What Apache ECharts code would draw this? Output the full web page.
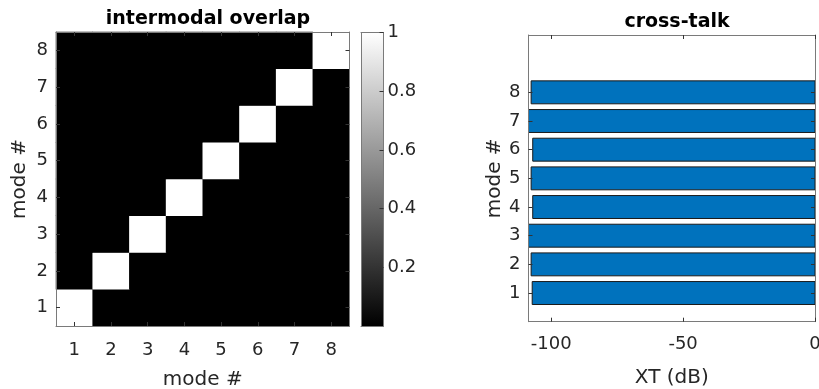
<!DOCTYPE html>
<html><head><meta charset="utf-8">
<script src="https://cdn.jsdelivr.net/npm/echarts@6/dist/echarts.min.js"></script>
<style>html,body{margin:0;padding:0;background:#fff}#c{width:819px;height:389px}</style>
</head><body><div id="c"></div>
<script>
// ---- data ----
const modes = ['1','2','3','4','5','6','7','8'];
// intermodal overlap matrix, rows = mode (y) 1..8, cols = mode (x) 1..8
const overlapRow1 = [1,0,0,0,0,0,0,0];
const overlapRow2 = [0,1,0,0,0,0,0,0];
const overlapRow3 = [0,0,1,0,0,0,0,0];
const overlapRow4 = [0,0,0,1,0,0,0,0];
const overlapRow5 = [0,0,0,0,1,0,0,0];
const overlapRow6 = [0,0,0,0,0,1,0,0];
const overlapRow7 = [0,0,0,0,0,0,1,0];
const overlapRow8 = [0,0,0,0,0,0,0,1];
const overlapRows = [overlapRow1, overlapRow2, overlapRow3, overlapRow4, overlapRow5, overlapRow6, overlapRow7, overlapRow8];
const colorbarTicks = [0.2, 0.4, 0.6, 0.8, 1];
const xtModes = [1,2,3,4,5,6,7,8];
const xtValues = [-107.2, -107.6, -110.5, -107.0, -107.6, -107.0, -110.5, -107.6];
const xtTicks = [-100, -50, 0];
const xtRange = [-108.6, 0];
const modeRange = [0, 10];

// ---- build ----
const FONT = 'DejaVu Sans';
const TXT = '#262626';
const AX = '#7a7a7a';
const heatData = [];
overlapRows.forEach((row, yi) => row.forEach((v, xi) => heatData.push([xi, yi, v])));

function frameAxis(extra) {
  return Object.assign({
    z: 10,
    axisLine: { show: true, onZero: false, lineStyle: { color: AX, width: 1 } },
    axisTick: { show: false },
    axisLabel: { show: false },
    splitLine: { show: false }
  }, extra);
}
const tickStyle = { show: true, inside: true, length: 4, lineStyle: { color: '#333', width: 1 } };
const labelStyle = { color: TXT, fontFamily: FONT, fontSize: 18 };
const nameStyle = { color: TXT, fontFamily: FONT, fontSize: 20 };

const chart = echarts.init(document.getElementById('c'), null, { renderer: 'canvas' });
chart.setOption({
  animation: false,
  backgroundColor: '#fff',
  textStyle: { fontFamily: FONT },
  title: [
    { text: 'intermodal overlap', left: 203, top: 5, textAlign: 'center',
      textStyle: { fontFamily: FONT, fontSize: 19, fontWeight: 'bold', color: '#000' } },
    { text: 'cross-talk', left: 672, top: 8, textAlign: 'center',
      textStyle: { fontFamily: FONT, fontSize: 19, fontWeight: 'bold', color: '#000' } }
  ],
  grid: [
    { left: 56, top: 32, width: 293.5, height: 294, show: true, backgroundColor: '#000', borderWidth: 0,
      outerBoundsMode: 'none', containLabel: false },
    { left: 361, top: 32.5, width: 22.5, height: 293.5, outerBoundsMode: 'none', containLabel: false },
    { left: 528.5, top: 35, width: 286.5, height: 286.7, outerBoundsMode: 'none', containLabel: false }
  ],
  visualMap: { show: false, seriesIndex: 0, min: 0, max: 1, inRange: { color: ['#000000', '#ffffff'] } },
  xAxis: [
    frameAxis({ gridIndex: 0, type: 'category', data: modes, position: 'bottom',
      axisTick: Object.assign({ alignWithLabel: true }, tickStyle),
      axisLabel: Object.assign({ show: true, margin: 15 }, labelStyle),
      name: 'mode #', nameLocation: 'middle', nameGap: 44, nameTextStyle: nameStyle }),
    frameAxis({ gridIndex: 0, type: 'category', data: modes, position: 'top',
      axisTick: Object.assign({ alignWithLabel: true }, tickStyle) }),
    frameAxis({ gridIndex: 1, type: 'category', data: ['cb'], position: 'bottom' }),
    frameAxis({ gridIndex: 1, type: 'category', data: ['cb'], position: 'top' }),
    frameAxis({ gridIndex: 2, type: 'value', min: xtRange[0], max: xtRange[1], position: 'bottom',
      axisTick: Object.assign({ customValues: xtTicks }, tickStyle),
      axisLabel: Object.assign({ show: true, margin: 14, customValues: xtTicks }, labelStyle),
      name: 'XT (dB)', nameLocation: 'middle', nameGap: 46, nameTextStyle: nameStyle }),
    frameAxis({ gridIndex: 2, type: 'value', min: xtRange[0], max: xtRange[1], position: 'top',
      axisTick: Object.assign({ customValues: xtTicks }, tickStyle) })
  ],
  yAxis: [
    frameAxis({ gridIndex: 0, type: 'category', data: modes, position: 'left',
      axisTick: Object.assign({ alignWithLabel: true }, tickStyle),
      axisLabel: Object.assign({ show: true, margin: 8 }, labelStyle),
      name: 'mode #', nameLocation: 'middle', nameRotate: 90, nameGap: 26, nameTextStyle: nameStyle }),
    frameAxis({ gridIndex: 0, type: 'category', data: modes, position: 'right',
      axisTick: Object.assign({ alignWithLabel: true }, tickStyle) }),
    frameAxis({ gridIndex: 1, type: 'value', min: 0, max: 1, position: 'left' }),
    frameAxis({ gridIndex: 1, type: 'value', min: 0, max: 1, position: 'right',
      axisTick: Object.assign({ customValues: colorbarTicks }, tickStyle),
      axisLabel: Object.assign({ show: true, margin: 4, customValues: colorbarTicks,
        formatter: v => String(v) }, labelStyle) }),
    frameAxis({ gridIndex: 2, type: 'value', min: modeRange[0], max: modeRange[1], position: 'left',
      axisTick: Object.assign({ customValues: xtModes }, tickStyle),
      axisLabel: Object.assign({ show: true, margin: 8, customValues: xtModes }, labelStyle),
      name: 'mode #', nameLocation: 'middle', nameRotate: 90, nameGap: 17, nameTextStyle: nameStyle }),
    frameAxis({ gridIndex: 2, type: 'value', min: modeRange[0], max: modeRange[1], position: 'right',
      axisTick: Object.assign({ customValues: xtModes }, tickStyle) })
  ],
  series: [
    { type: 'heatmap', xAxisIndex: 0, yAxisIndex: 0, data: heatData,
      itemStyle: { borderWidth: 0 }, emphasis: { disabled: true } },
    { type: 'bar', xAxisIndex: 2, yAxisIndex: 2, data: [1], barWidth: '100%', silent: true,
      itemStyle: { color: new echarts.graphic.LinearGradient(0, 0, 0, 1,
        [{ offset: 0, color: '#ffffff' }, { offset: 1, color: '#000000' }]) } },
    { type: 'custom', xAxisIndex: 4, yAxisIndex: 4, silent: true,
      data: xtValues.map((v, i) => [v, xtModes[i]]),
      encode: { x: 0, y: 1 },
      renderItem: function (params, api) {
        const v = api.value(0), m = api.value(1);
        const p0 = api.coord([0, m]);
        const p1 = api.coord([v, m]);
        const h = api.size([0, 0.8])[1];
        const cs = params.coordSys;
        const rect = echarts.graphic.clipRectByRect(
          { x: p1[0], y: p0[1] - h / 2, width: p0[0] - p1[0], height: h },
          { x: cs.x, y: cs.y, width: cs.width, height: cs.height });
        return rect && { type: 'rect', shape: rect,
          style: { fill: '#0072BD', stroke: '#1a1a1a', lineWidth: 1 } };
      } }
  ]
});
</script></body></html>
